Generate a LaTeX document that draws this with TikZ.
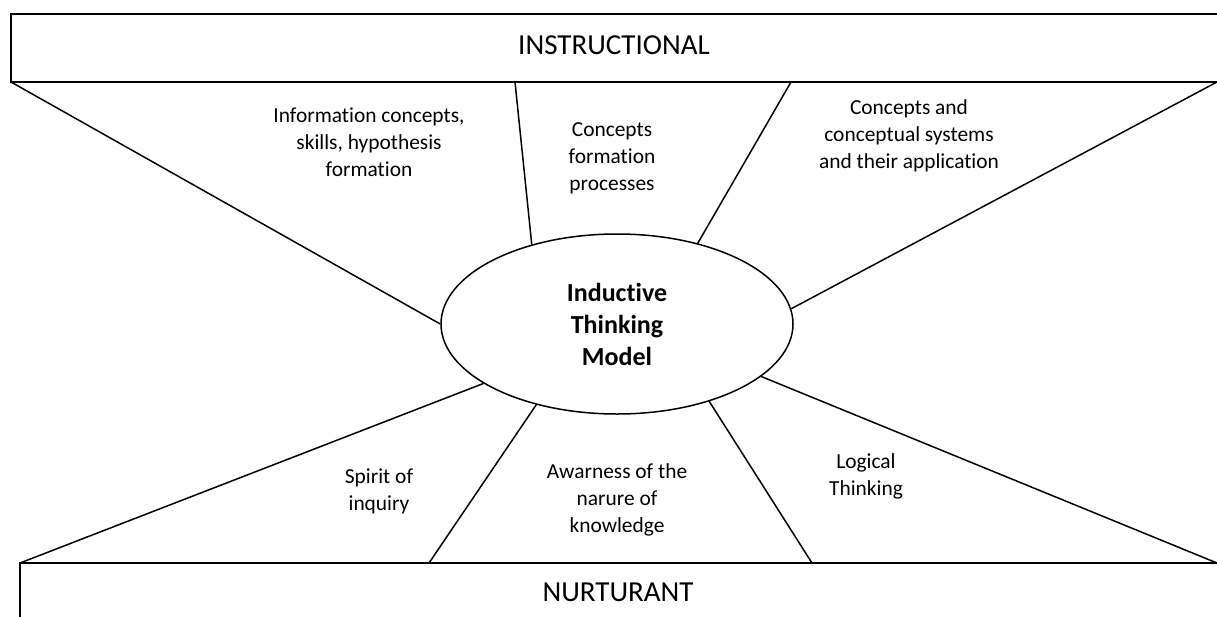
\documentclass[tikz,border=0pt]{standalone}
\usepackage{fontspec}
\setmainfont{Carlito}[Ligatures=NoCommon]
\usetikzlibrary{shapes.geometric}

\begin{document}
\begin{tikzpicture}[x=1pt, y=-1pt,
  band/.style={draw, line width=1.9pt},
  spoke/.style={line width=1.5pt},
  lbl/.style={font=\fontsize{21.4}{27}\selectfont, align=center},
  hdr/.style={font=\fontsize{29}{35}\selectfont},
  core/.style={ellipse, draw, line width=1.5pt, inner sep=0pt,
               minimum width=352pt, minimum height=180pt, align=center,
               font=\bfseries\fontsize{26}{32}\selectfont},
]
  \clip (0,0) rectangle (1217,616);

  % the two bands
  \draw[band] (11,82) rectangle (1240,14);
  \draw[band] (20,640) rectangle (1240,563);
  \node[hdr] (instr) at (614,45) {INSTRUCTIONAL};
  \node[hdr] (nurt) at (618,592) {NURTURANT};

  % where the spokes meet the bands
  \coordinate (t1) at (11,82);
  \coordinate (t2) at (515,82);
  \coordinate (t3) at (791,82);
  \coordinate (t4) at (1217,82);
  \coordinate (b1) at (20,563);
  \coordinate (b2) at (429,563);
  \coordinate (b3) at (812,563);
  \coordinate (b4) at (1217,563);

  \node[core] (itm) at (617,324) {Inductive\\Thinking\\Model};

  \draw[spoke] (t1) -- (itm.180);
  \draw[spoke] (t2) -- (itm.137.6);
  \draw[spoke] (t3) -- (itm.45.7);
  \draw[spoke] (t4) -- (itm.5.2);
  \draw[spoke] (b1) -- (itm.-156.9);
  \draw[spoke] (b2) -- (itm.-135.4);
  \draw[spoke] (b3) -- (itm.-40);
  \draw[spoke] (b4) -- (itm.-20.2);

  % labels between the spokes
  \node[lbl] (info) at (369,142) {Information concepts,\\skills, hypothesis\\formation};
  \node[lbl] (form) at (612,158) {Concepts\\formation\\processes};
  \node[lbl] (appl) at (909,136) {Concepts and\\conceptual systems\\and their application};
  \node[lbl] (spir) at (379,491) {Spirit of\\inquiry};
  \node[lbl] (know) at (617,500) {Awarness of the\\narure of\\knowledge};
  \node[lbl] (logi) at (866,476) {Logical\\Thinking};
\end{tikzpicture}
\end{document}
